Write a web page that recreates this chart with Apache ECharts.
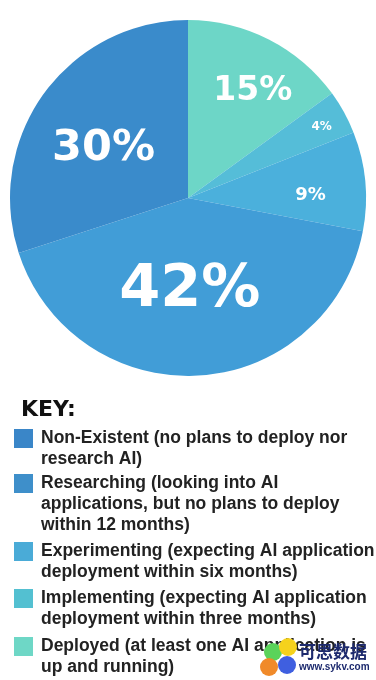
<!DOCTYPE html>
<html><head><meta charset="utf-8">
<script src="https://cdn.jsdelivr.net/npm/echarts@6/dist/echarts.min.js"></script>
<style>html,body{margin:0;padding:0;background:#fff}#c{width:376px;height:680px}</style>
</head><body><div id="c"></div>
<script>
// ---- data ----
const categories = ['Deployed', 'Implementing', 'Experimenting', 'Researching', 'Non-Existent'];
const values = [15, 4, 9, 42, 30];
const legendOrder = ['Non-Existent', 'Researching', 'Experimenting', 'Implementing', 'Deployed'];
const legendLines = {
  'Non-Existent': ['Non-Existent (no plans to deploy nor', 'research AI)'],
  'Researching': ['Researching (looking into AI', 'applications, but no plans to deploy', 'within 12 months)'],
  'Experimenting': ['Experimenting (expecting AI application', 'deployment within six months)'],
  'Implementing': ['Implementing (expecting AI application', 'deployment within three months)'],
  'Deployed': ['Deployed (at least one AI application is', 'up and running)']
};
const keyTitle = 'KEY:';

// ---- styles ----
const sliceColors = ['#6dd6c7', '#55bdd8', '#4bb0dc', '#419dd7', '#3a8bcb'];
const legendSquareColors = ['#3a86c8', '#3e8fca', '#4aabd7', '#53c0d1', '#6ed7c6'];
const labelSizes = [33, 12, 18, 59, 43];
const labelShift = [[23, -25], [53, -27], [31, 6], [-4, 1], [-10, 5]];
const legendIconTop = [429, 474, 542, 589, 637];
const LH = 21;

const chart = echarts.init(document.getElementById('c'), null, {renderer: 'canvas'});

const legends = legendOrder.map((name, i) => {
  const n = legendLines[name].length;
  const pad = new Array(n - 1).fill('').join('\n');
  return {
    left: 14,
    top: legendIconTop[i] - LH * n + 20,
    padding: 0,
    orient: 'vertical',
    itemWidth: 19,
    itemHeight: 19,
    icon: 'rect',
    selectedMode: false,
    data: [{name: name, itemStyle: {color: legendSquareColors[i]}}],
    formatter: () => pad + '\n' + legendLines[name].join('\n'),
    textStyle: {
      fontFamily: 'Liberation Sans',
      fontWeight: 'bold',
      fontSize: 17.5,
      lineHeight: LH,
      color: '#222222',
      padding: [0, 0, 0, 3]
    }
  };
});

chart.setOption({
  backgroundColor: '#ffffff',
  animation: false,
  title: {
    text: keyTitle,
    left: 21,
    top: 399,
    padding: 0,
    textStyle: {fontFamily: 'DejaVu Sans', fontWeight: 'bold', fontSize: 22, lineHeight: 22, color: '#111111'}
  },
  legend: legends,
  series: [{
    type: 'pie',
    center: [188, 198],
    radius: [0, 178],
    startAngle: 90,
    clockwise: true,
    avoidLabelOverlap: false,
    labelLine: {show: false},
    itemStyle: {borderWidth: 0},
    emphasis: {disabled: true},
    label: {
      show: true,
      position: 'inside',
      formatter: '{c}%',
      color: '#ffffff',
      fontFamily: 'DejaVu Sans',
      fontWeight: 'bold'
    },
    labelLayout: function (p) {
      const s = labelShift[p.dataIndex];
      return {dx: s[0], dy: s[1]};
    },
    data: categories.map((name, i) => ({
      name: name,
      value: values[i],
      itemStyle: {color: sliceColors[i]},
      label: {fontSize: labelSizes[i]}
    }))
  }],
  graphic: [
    {type: 'circle', shape: {cx: 273, cy: 652, r: 9}, style: {fill: '#5ad35a'}, z: 100},
    {type: 'circle', shape: {cx: 288, cy: 647, r: 9}, style: {fill: '#f5d21c'}, z: 100},
    {type: 'circle', shape: {cx: 269, cy: 667, r: 9}, style: {fill: '#f08a2a'}, z: 100},
    {type: 'circle', shape: {cx: 287, cy: 665, r: 9}, style: {fill: '#3f5fe0'}, z: 100},
    {type: 'text', left: 299, top: 643, z: 100, style: {text: '可思数据', fill: '#1d2a6e', font: 'bold 17px "Noto Sans CJK SC"'}},
    {type: 'text', left: 299, top: 662, z: 100, style: {text: 'www.sykv.com', fill: '#1d2a6e', font: 'bold 10px "Liberation Sans Narrow", "Liberation Sans"'}}
  ]
});
</script></body></html>
